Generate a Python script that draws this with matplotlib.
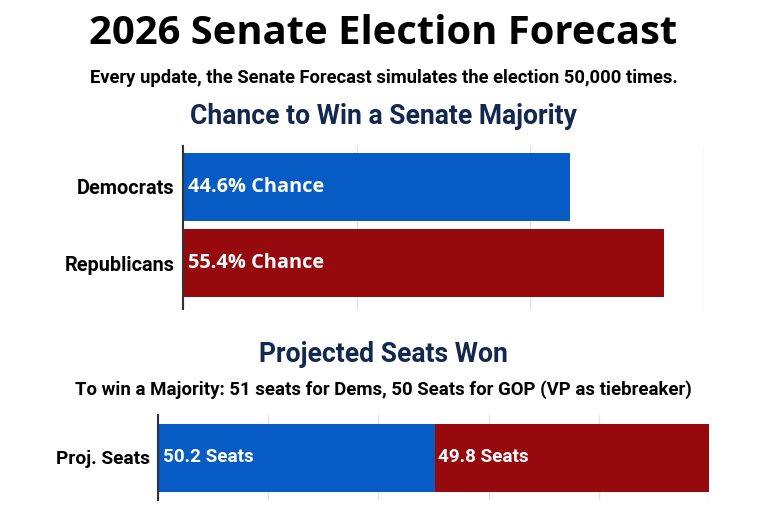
import matplotlib
matplotlib.use("Agg")
import matplotlib.pyplot as plt

# ---- data ----
parties = ["Democrats", "Republicans"]
chances = [44.6, 55.4]
chance_labels = ["44.6% Chance", "55.4% Chance"]
seat_row = ["Proj. Seats"]
dem_seats = [50.2]
gop_seats = [49.8]
seat_labels = ["50.2 Seats", "49.8 Seats"]
chance_ticks = [0, 20, 40, 60]
seat_ticks = [0, 20, 40, 60, 80, 100]

BLUE = "#065bc4"
RED = "#960a0d"
NAVY = "#13284f"
GRID = "#e3e3e3"

fig = plt.figure(figsize=(7.75, 5.32), dpi=100)
fig.patch.set_facecolor("white")

W, H = 775, 532
def fx(px): return px / W
def fy(py): return 1 - py / H

fig.text(fx(383), fy(34), "2026 Senate Election Forecast", ha="center", va="center",
         fontsize=28.8, fontweight="bold", family="Open Sans", color="black")
fig.text(fx(384), fy(78), "Every update, the Senate Forecast simulates the election 50,000 times.",
         ha="center", va="center", fontsize=13.2, fontweight="bold", family="Roboto", color="black")
fig.text(fx(383), fy(116), "Chance to Win a Senate Majority", ha="center", va="center",
         fontsize=19.1, fontweight="bold", family="Roboto", color=NAVY)
fig.text(fx(383), fy(355), "Projected Seats Won", ha="center", va="center",
         fontsize=19.1, fontweight="bold", family="Roboto", color=NAVY)
fig.text(fx(383), fy(390), "To win a Majority: 51 seats for Dems, 50 Seats for GOP (VP as tiebreaker)",
         ha="center", va="center", fontsize=13.4, fontweight="bold", family="Roboto", color="black")

# ---- top chart ----
ax1 = fig.add_axes([fx(183), fy(309), fx(704) - fx(183), (309 - 146) / H])
ypos = list(range(len(parties)))
ax1.barh(ypos, chances, height=0.89, color=[BLUE, RED], zorder=2)
ax1.set_xlim(0, 60)
ax1.set_ylim(1.6, -0.53)
ax1.set_xticks(chance_ticks)
ax1.xaxis.grid(True, color=GRID, linewidth=1, zorder=0)
ax1.tick_params(axis="x", length=0, labelbottom=False)
ax1.tick_params(axis="y", length=0, pad=6)
ax1.set_yticks(ypos)
ax1.set_yticklabels(parties, fontsize=14.3, fontweight="bold", family="Roboto")
for s in ["top", "right", "bottom"]:
    ax1.spines[s].set_visible(False)
ax1.spines["left"].set_color("#333333")
ax1.spines["left"].set_linewidth(1.5)
ax1.spines["left"].set_zorder(3)
for y, lab in zip(ypos, chance_labels):
    ax1.text(0.6, y, lab, color="white", ha="left", va="center", fontsize=14.4,
             fontweight="bold", family="Open Sans", zorder=4)

# ---- bottom chart ----
ax2 = fig.add_axes([fx(158), fy(500), fx(709) - fx(158), (500 - 415) / H])
ax2.barh([0], dem_seats, height=1.0, color=BLUE, zorder=2)
ax2.barh([0], gop_seats, left=dem_seats, height=1.0, color=RED, zorder=2)
ax2.set_xlim(0, 100)
ax2.set_ylim(-0.625, 0.625)
ax2.set_xticks(seat_ticks)
ax2.xaxis.grid(True, color=GRID, linewidth=1, zorder=0)
ax2.tick_params(axis="x", length=0, labelbottom=False)
ax2.tick_params(axis="y", length=0, pad=6)
ax2.set_yticks([0])
ax2.set_yticklabels(seat_row, fontsize=13.8, fontweight="bold", family="Roboto")
for s in ["top", "right", "bottom"]:
    ax2.spines[s].set_visible(False)
ax2.spines["left"].set_color("#333333")
ax2.spines["left"].set_linewidth(1.5)
ax2.spines["left"].set_zorder(3)
ax2.text(0.9, 0, seat_labels[0], color="white", ha="left", va="center", fontsize=13.6,
         fontweight="bold", family="Roboto", zorder=4)
ax2.text(dem_seats[0] + 0.7, 0, seat_labels[1], color="white", ha="left", va="center",
         fontsize=13.6, fontweight="bold", family="Roboto", zorder=4)

fig.savefig("out.png", dpi=100, facecolor="white")
